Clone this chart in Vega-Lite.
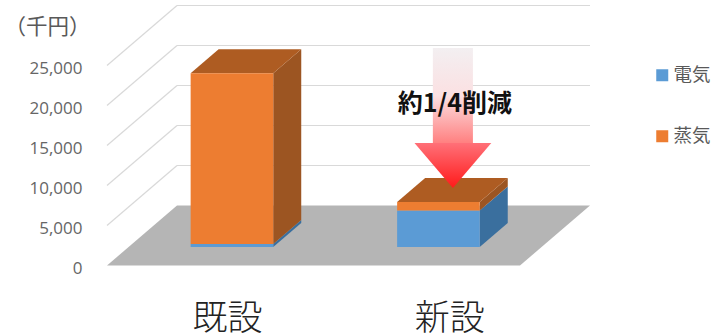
{
  "$schema": "https://vega.github.io/schema/vega-lite/v6.json",
  "width": 713,
  "height": 336,
  "padding": 0,
  "autosize": "none",
  "background": "white",
  "view": {"stroke": null},
  "config": {"font": "Noto Sans CJK JP"},
  "datasets": {
    "costs": [
      {"facility": "既設", "source": "電気", "value": 350},
      {"facility": "既設", "source": "蒸気", "value": 21350},
      {"facility": "新設", "source": "電気", "value": 4550},
      {"facility": "新設", "source": "蒸気", "value": 1075}
    ],
    "ticks": [
      {"tick": 5000}, {"tick": 10000}, {"tick": 15000}, {"tick": 20000}, {"tick": 25000}
    ]
  },
  "resolve": {"scale": {"color": "independent"}},
  "layer": [
    {
      "description": "Back wall gridlines: a diagonal on the side wall, then a horizontal run",
      "data": {"name": "ticks"},
      "transform": [
        {"calculate": "datum.tick + 7500", "as": "wall"},
        {"calculate": "0.5", "as": "xa"},
        {"calculate": "0.839", "as": "xb"},
        {"calculate": "2.839", "as": "xc"}
      ],
      "layer": [
        {
          "mark": {"type": "rule", "stroke": "#d9d9d9", "strokeWidth": 1.2},
          "encoding": {
            "x": {"field": "xa", "type": "quantitative", "scale": {"domain": [-0.01816, 3.4346], "nice": false, "zero": false}, "axis": null},
            "x2": {"field": "xb"},
            "y": {
              "field": "tick",
              "type": "quantitative",
              "scale": {"domain": [-8812.5, 33187.5], "nice": false, "zero": false},
              "axis": {
                "title": "（千円）",
                "titleAngle": 0,
                "titleAlign": "left",
                "titleBaseline": "middle",
                "titleX": -78,
                "titleY": 27,
                "titleFontSize": 21.5,
                "titleFontWeight": "normal",
                "titleColor": "#595959",
                "values": [0, 5000, 10000, 15000, 20000, 25000],
                "format": ",d",
                "offset": -82,
                "domain": false,
                "ticks": false,
                "grid": false,
                "labelPadding": 0,
                "labelOffset": 3,
                "labelFont": "Open Sans",
                "labelFontSize": 17,
                "labelColor": "#666666"
              }
            },
            "y2": {"field": "wall"}
          }
        },
        {
          "mark": {"type": "rule", "stroke": "#d9d9d9", "strokeWidth": 1.2},
          "encoding": {
            "x": {"field": "xb", "type": "quantitative"},
            "x2": {"field": "xc"},
            "y": {"field": "wall", "type": "quantitative"}
          }
        }
      ]
    },
    {
      "description": "Grey floor of the 3D plot",
      "data": {"values": [{"depth": 0}, {"depth": 1}]},
      "transform": [
        {"calculate": "0.5 + datum.depth * 0.339", "as": "fl"},
        {"calculate": "2.5 + datum.depth * 0.339", "as": "fr"},
        {"calculate": "datum.depth * 7500", "as": "fy"}
      ],
      "mark": {"type": "area", "orient": "horizontal", "fill": "#b5b5b5"},
      "encoding": {
        "y": {"field": "fy", "type": "quantitative"},
        "x": {"field": "fl", "type": "quantitative", "stack": null},
        "x2": {"field": "fr"}
      }
    },
    {
      "description": "Stacked 3D columns, projected from the stacked values",
      "data": {"name": "costs"},
      "transform": [
        {"stack": "value", "groupby": ["facility"], "sort": [{"field": "source", "order": "descending"}], "as": ["v0", "v1"]},
        {"calculate": "datum.facility === '既設' ? 1 : 2", "as": "cx"},
        {"calculate": "datum.cx - 0.2 + 0.105", "as": "left"},
        {"calculate": "datum.cx + 0.2 + 0.105", "as": "right"},
        {"calculate": "datum.v0 + 2325", "as": "fy0"},
        {"calculate": "datum.v1 + 2325", "as": "fy1"}
      ],
      "resolve": {"scale": {"color": "independent"}},
      "layer": [
        {
          "description": "Right-hand side faces",
          "transform": [
            {"calculate": "[0, 0.4]", "as": "depth"},
            {"flatten": ["depth"]},
            {"calculate": "datum.right + datum.depth * 0.339", "as": "sx"},
            {"calculate": "datum.fy0 + datum.depth * 7500", "as": "sy0"},
            {"calculate": "datum.fy1 + datum.depth * 7500", "as": "sy1"},
            {"calculate": "datum.facility + datum.source", "as": "face"}
          ],
          "mark": {"type": "area", "orient": "vertical"},
          "encoding": {
            "x": {"field": "sx", "type": "quantitative"},
            "y": {"field": "sy1", "type": "quantitative", "stack": null},
            "y2": {"field": "sy0"},
            "detail": {"field": "face"},
            "color": {"field": "source", "type": "nominal", "legend": null, "scale": {"domain": ["電気", "蒸気"], "range": ["#3a6f9e", "#9c5522"]}}
          }
        },
        {
          "description": "Top faces of the full stacks",
          "transform": [
            {"filter": "datum.source === '蒸気'"},
            {"calculate": "[0, 0.4]", "as": "depth"},
            {"flatten": ["depth"]},
            {"calculate": "datum.left + datum.depth * 0.339", "as": "tl"},
            {"calculate": "datum.right + datum.depth * 0.339", "as": "tr"},
            {"calculate": "datum.fy1 + datum.depth * 7500", "as": "ty"}
          ],
          "mark": {"type": "area", "orient": "horizontal", "fill": "#ae5c22"},
          "encoding": {
            "y": {"field": "ty", "type": "quantitative"},
            "x": {"field": "tl", "type": "quantitative", "stack": null},
            "x2": {"field": "tr"},
            "detail": {"field": "facility"}
          }
        },
        {
          "description": "Front faces, carrying the legend",
          "mark": {"type": "rect"},
          "encoding": {
            "x": {"field": "left", "type": "quantitative"},
            "x2": {"field": "right"},
            "y": {"field": "fy0", "type": "quantitative"},
            "y2": {"field": "fy1"},
            "color": {
              "field": "source",
              "type": "nominal",
              "scale": {"domain": ["電気", "蒸気"], "range": ["#5b9bd5", "#ed7d31"]},
              "legend": {
                "title": null,
                "orient": "none",
                "legendX": 653,
                "legendY": 66,
                "symbolType": "square",
                "symbolSize": 144,
                "symbolStrokeWidth": 0,
                "labelFontSize": 18.5,
                "labelColor": "#595959",
                "labelOffset": 2,
                "rowPadding": 42
              }
            }
          }
        }
      ]
    },
    {
      "description": "Reduction arrow shaft",
      "data": {"values": [{"cx": 2.175, "from": 27190, "to": 15312}]},
      "transform": [
        {"calculate": "datum.cx - 0.097", "as": "l"},
        {"calculate": "datum.cx + 0.097", "as": "r"}
      ],
      "mark": {
        "type": "rect",
        "fill": {
          "gradient": "linear",
          "x1": 0, "y1": 0, "x2": 0, "y2": 1,
          "stops": [
            {"offset": 0, "color": "#f3eff1"},
            {"offset": 0.5, "color": "#fbe0e2"},
            {"offset": 1, "color": "#ff8080"}
          ]
        }
      },
      "encoding": {
        "x": {"field": "l", "type": "quantitative"},
        "x2": {"field": "r"},
        "y": {"field": "from", "type": "quantitative"},
        "y2": {"field": "to"}
      }
    },
    {
      "description": "Reduction arrow head",
      "data": {"values": [
        {"at": 15312, "l": 1.989, "r": 2.361},
        {"at": 9690, "l": 2.175, "r": 2.175}
      ]},
      "mark": {
        "type": "area",
        "orient": "horizontal",
        "fill": {
          "gradient": "linear",
          "x1": 0, "y1": 0, "x2": 0, "y2": 1,
          "stops": [
            {"offset": 0, "color": "#ff7078"},
            {"offset": 1, "color": "#ff1a1a"}
          ]
        }
      },
      "encoding": {
        "y": {"field": "at", "type": "quantitative"},
        "x": {"field": "l", "type": "quantitative", "stack": null},
        "x2": {"field": "r"}
      }
    },
    {
      "description": "Reduction note",
      "data": {"values": [{"note": "約1/4削減", "u": 2.185, "v": 20200}]},
      "mark": {"type": "text", "fontSize": 25, "fontWeight": "bold", "color": "#111111", "align": "center", "baseline": "middle"},
      "encoding": {
        "x": {"field": "u", "type": "quantitative"},
        "y": {"field": "v", "type": "quantitative"},
        "text": {"field": "note"}
      }
    },
    {
      "description": "Facility names below the floor",
      "data": {"values": [
        {"name": "既設", "u": 1.083, "v": -6650},
        {"name": "新設", "u": 2.16, "v": -6650}
      ]},
      "mark": {"type": "text", "fontSize": 35, "fontWeight": 300, "color": "#222222", "align": "center", "baseline": "middle"},
      "encoding": {
        "x": {"field": "u", "type": "quantitative"},
        "y": {"field": "v", "type": "quantitative"},
        "text": {"field": "name"}
      }
    }
  ]
}
